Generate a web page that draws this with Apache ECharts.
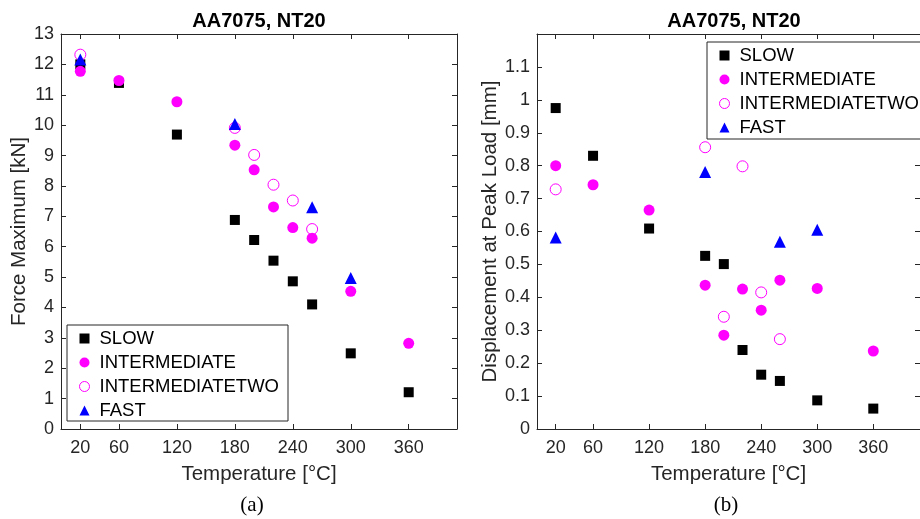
<!DOCTYPE html>
<html>
<head>
<meta charset="utf-8">
<script src="https://cdn.jsdelivr.net/npm/echarts@6/dist/echarts.min.js"></script>
<style>
html,body{margin:0;padding:0;background:#fff;}
#chart{width:920px;height:519px;}
</style>
</head>
<body>
<div id="chart"></div>
<script>
// ---- data ----
const seriesNames = ['SLOW', 'INTERMEDIATE', 'INTERMEDIATETWO', 'FAST'];
const tempTicks = [20, 60, 120, 180, 240, 300, 360];

const tempSlow = [20, 60, 120, 180, 200, 220, 240, 260, 300, 360];
const tempInter = [20, 60, 120, 180, 200, 220, 240, 260, 300, 360];
const tempInterTwo = [20, 180, 200, 220, 240, 260];
const tempFast = [20, 180, 260, 300];

// (a) Force maximum [kN]
const forceSlow = [12.0, 11.39, 9.69, 6.88, 6.22, 5.54, 4.86, 4.10, 2.49, 1.21];
const forceInter = [11.77, 11.47, 10.77, 9.34, 8.53, 7.31, 6.63, 6.28, 4.53, 2.82];
const forceInterTwo = [12.32, 9.91, 9.02, 8.04, 7.52, 6.58];
const forceFast = [12.16, 10.04, 7.30, 4.97];

// (b) Displacement at peak load [mm]
const dispSlow = [0.975, 0.830, 0.609, 0.526, 0.501, 0.240, 0.165, 0.146, 0.087, 0.062];
const dispInter = [0.800, 0.742, 0.665, 0.437, 0.285, 0.425, 0.361, 0.452, 0.427, 0.237];
const dispInterTwo = [0.728, 0.856, 0.341, 0.798, 0.415, 0.273];
const dispFast = [0.582, 0.781, 0.569, 0.605];

// ---- chart ----
const FONT = '"Liberation Sans", Arial, Helvetica, sans-serif';
const AX = '#262626';
const zip = (xs, ys) => xs.map((x, i) => [x, ys[i]]);

const styles = {
  'SLOW': {symbol: 'rect', symbolSize: 10, itemStyle: {color: '#000000', opacity: 1}},
  'INTERMEDIATE': {symbol: 'circle', symbolSize: 11, itemStyle: {color: '#ff00ff', opacity: 1}},
  'INTERMEDIATETWO': {symbol: 'circle', symbolSize: 11, itemStyle: {color: 'rgba(255,255,255,0)', borderColor: '#ff00ff', borderWidth: 1, opacity: 1}},
  'FAST': {symbol: 'triangle', symbolSize: 12, itemStyle: {color: '#0000ff', opacity: 1}}
};

function mkSeries(name, xs, ys, idx) {
  return Object.assign({
    type: 'scatter', name: name, xAxisIndex: idx * 2, yAxisIndex: idx * 2,
    data: zip(xs, ys), emphasis: {disabled: true}
  }, JSON.parse(JSON.stringify(styles[name])));
}

function xAxes(grid) {
  return [{
    gridIndex: grid, type: 'value', min: 0, max: 410, position: 'bottom',
    axisLine: {show: true, onZero: false, lineStyle: {color: AX, width: 1}},
    axisTick: {show: true, inside: true, length: 5, customValues: tempTicks, lineStyle: {color: AX}},
    axisLabel: {show: true, customValues: tempTicks, margin: 10, fontSize: 18, color: AX, fontFamily: FONT},
    splitLine: {show: false},
    name: 'Temperature [°C]', nameLocation: 'middle', nameGap: 35,
    nameTextStyle: {fontSize: 20.5, color: AX, fontFamily: FONT}
  }, {
    gridIndex: grid, type: 'value', min: 0, max: 410, position: 'top',
    axisLine: {show: true, onZero: false, lineStyle: {color: AX, width: 1}},
    axisTick: {show: true, inside: true, length: 5, customValues: tempTicks, lineStyle: {color: AX}},
    axisLabel: {show: false}, splitLine: {show: false}
  }];
}

function yAxes(grid, max, interval, name, gap, fmt) {
  return [{
    gridIndex: grid, type: 'value', min: 0, max: max, interval: interval, position: 'left',
    axisLine: {show: true, onZero: false, lineStyle: {color: AX, width: 1}},
    axisTick: {show: true, inside: true, length: 5, lineStyle: {color: AX}},
    axisLabel: {show: true, margin: 7, fontSize: 18, color: AX, fontFamily: FONT, formatter: fmt},
    splitLine: {show: false},
    name: name, nameLocation: 'middle', nameGap: gap,
    nameTextStyle: {fontSize: 20.5, color: AX, fontFamily: FONT}
  }, {
    gridIndex: grid, type: 'value', min: 0, max: max, interval: interval, position: 'right',
    axisLine: {show: true, onZero: false, lineStyle: {color: AX, width: 1}},
    axisTick: {show: true, inside: true, length: 5, lineStyle: {color: AX}},
    axisLabel: {show: false}, splitLine: {show: false}
  }];
}

function legend(left, top, pad) {
  return {
    orient: 'vertical', left: left, top: top,
    borderColor: AX, borderWidth: 1, borderRadius: 0, padding: pad,
    backgroundColor: '#ffffff',
    itemWidth: 10, itemHeight: 10, itemGap: 5,
    selectedMode: false,
    textStyle: {fontSize: 18.5, lineHeight: 18, color: '#000', fontFamily: FONT, padding: [0, 0, 0, 5]},
    data: [
      {name: 'SLOW', icon: 'rect', itemStyle: {color: '#000000', opacity: 1}},
      {name: 'INTERMEDIATE', icon: 'circle', itemStyle: {color: '#ff00ff', opacity: 1}},
      {name: 'INTERMEDIATETWO', icon: 'circle', itemStyle: {color: 'rgba(255,255,255,0)', borderColor: '#ff00ff', borderWidth: 1, opacity: 1}},
      {name: 'FAST', icon: 'triangle', itemStyle: {color: '#0000ff', opacity: 1}}
    ]
  };
}

const chart = echarts.init(document.getElementById('chart'), null, {renderer: 'canvas'});
chart.setOption({
  animation: false,
  backgroundColor: '#ffffff',
  grid: [
    {left: 61, top: 34, width: 396, height: 395, containLabel: false},
    {left: 537, top: 34, width: 395, height: 395, containLabel: false}
  ],
  xAxis: [].concat(xAxes(0), xAxes(1)),
  yAxis: [].concat(
    yAxes(0, 13, 1, 'Force Maximum [kN]', 29, v => String(v)),
    yAxes(1, 1.2, 0.1, 'Displacement at Peak Load [mm]', 32,
      v => (v > 1.15 ? '' : String(Math.round(v * 10) / 10)))
  ),
  legend: [legend(67, 325, [4, 9, 1, 12]), legend(707, 42, [4, 9, 2, 12])],
  graphic: [
    {type: 'text', x: 259, y: 21, style: {text: 'AA7075, NT20', font: 'bold 20px ' + FONT, fill: '#000', align: 'center', verticalAlign: 'middle'}},
    {type: 'text', x: 734, y: 21, style: {text: 'AA7075, NT20', font: 'bold 20px ' + FONT, fill: '#000', align: 'center', verticalAlign: 'middle'}},
    {type: 'text', x: 252, y: 505, style: {text: '(a)', font: '21px "Liberation Serif", "Times New Roman", serif', fill: '#000', align: 'center', verticalAlign: 'middle'}},
    {type: 'text', x: 726, y: 505, style: {text: '(b)', font: '21px "Liberation Serif", "Times New Roman", serif', fill: '#000', align: 'center', verticalAlign: 'middle'}}
  ],
  series: [
    mkSeries('SLOW', tempSlow, forceSlow, 0),
    mkSeries('INTERMEDIATE', tempInter, forceInter, 0),
    mkSeries('INTERMEDIATETWO', tempInterTwo, forceInterTwo, 0),
    mkSeries('FAST', tempFast, forceFast, 0),
    mkSeries('SLOW', tempSlow, dispSlow, 1),
    mkSeries('INTERMEDIATE', tempInter, dispInter, 1),
    mkSeries('INTERMEDIATETWO', tempInterTwo, dispInterTwo, 1),
    mkSeries('FAST', tempFast, dispFast, 1)
  ]
});
</script>
</body>
</html>
